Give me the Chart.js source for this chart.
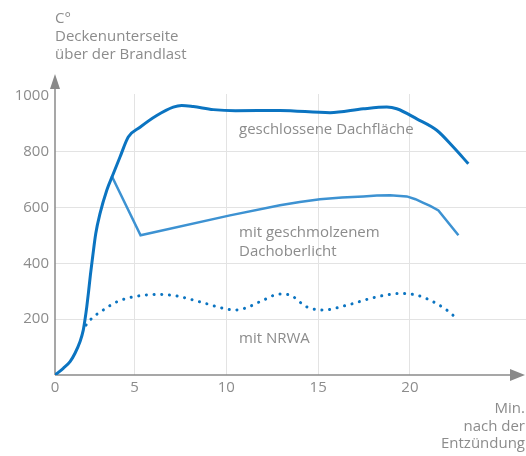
<!DOCTYPE html>
<html>
<head>
<meta charset="utf-8">
<script src="https://cdn.jsdelivr.net/npm/chart.js@4"></script>
<style>
  body { margin: 0; background: #fff; }
  #wrap { width: 526px; height: 456px; }
</style>
</head>
<body>
<div id="wrap"><canvas id="brandChart" width="526" height="456"></canvas></div>
<script>
// minutes after ignition (x axis starts slightly right of zero in the original drawing)
const xTicks = [0.67, 5, 10, 15, 20];
const yTicks = [200, 400, 600, 800, 1000];

// geschlossene Dachfläche
const closedX = [0.67, 1.12, 1.49, 1.76, 2.03, 2.21, 2.3, 2.4, 2.5, 2.6, 2.72, 2.89, 3.12, 3.49, 3.85, 4.21, 4.66, 5.3, 6.21, 7.11, 7.57, 8.2, 9.29, 10.5, 12.92, 15.65, 17.46, 18.74, 19.28, 20.37, 21.46, 22.36, 23.18];
const closedY = [0, 24, 48, 78, 119, 161, 197, 244, 300, 360, 423, 507, 578, 662, 722, 781, 853, 888, 930, 960, 966, 962, 951, 947, 948, 940, 954, 960, 954, 918, 877, 817, 757];

// mit geschmolzenem Dachoberlicht
const meltedX = [3.76, 5.33, 10.2, 12.92, 14.0, 15.1, 16.3, 17.46, 18.2, 18.92, 19.83, 20.3, 20.73, 21.1, 21.55, 22.64];
const meltedY = [713, 501, 572, 608, 620, 630, 636, 640, 643, 644, 640, 630, 617, 606, 590, 501];

// mit NRWA
const nrwaX = [2.36, 2.67, 3.3, 4.03, 4.93, 6.3, 7.3, 8.57, 9.84, 10.5, 11.1, 12.0, 12.9, 13.4, 14.38, 15.28, 16.56, 18.19, 19.46, 20.37, 21.1, 22.0, 22.64];
const nrwaY = [179, 203, 233, 262, 280, 289, 283, 262, 239, 233, 241, 268, 290, 288, 244, 233, 250, 280, 292, 286, 268, 233, 197];

const textGray = '#8c8c8c';
const axisGray = '#8a8a8a';
const gridGray = '#e3e3e3';
const blue = '#0b74c1';
const fontFamily = '"Open Sans", "Noto Sans", sans-serif';

function toPoints(xs, ys) {
  return xs.map(function(x, i) { return { x: x, y: ys[i] }; });
}

// axes with arrow heads + free text labels
const decorPlugin = {
  id: 'decor',
  beforeDatasetsDraw(chart) {
    const ctx = chart.ctx;
    const a = chart.chartArea;
    const x0 = a.left, y0 = a.bottom;
    ctx.save();
    ctx.strokeStyle = axisGray;
    ctx.fillStyle = axisGray;
    ctx.lineWidth = 1.5;
    // y axis
    ctx.beginPath();
    ctx.moveTo(x0, y0);
    ctx.lineTo(x0, 88);
    ctx.stroke();
    ctx.beginPath();
    ctx.moveTo(x0, 74);
    ctx.lineTo(x0 - 5, 89);
    ctx.lineTo(x0 + 5, 89);
    ctx.closePath();
    ctx.fill();
    // x axis
    ctx.beginPath();
    ctx.moveTo(x0, y0);
    ctx.lineTo(511, y0);
    ctx.stroke();
    ctx.beginPath();
    ctx.moveTo(525, y0);
    ctx.lineTo(510, y0 - 6);
    ctx.lineTo(510, y0 + 6);
    ctx.closePath();
    ctx.fill();
    ctx.restore();
  },
  afterDraw(chart) {
    const ctx = chart.ctx;
    ctx.save();
    ctx.fillStyle = textGray;
    ctx.font = '15px ' + fontFamily;
    ctx.textBaseline = 'alphabetic';
    ctx.textAlign = 'left';
    ctx.fillText('C°', 55, 23);
    ctx.fillText('Deckenunterseite', 55, 41);
    ctx.fillText('über der Brandlast', 55, 59);
    ctx.fillText('geschlossene Dachfläche', 239, 134);
    ctx.fillText('mit geschmolzenem', 239, 237);
    ctx.fillText('Dachoberlicht', 239, 256);
    ctx.fillText('mit NRWA', 239, 343);
    ctx.textAlign = 'right';
    ctx.fillText('Min.', 525, 413);
    ctx.fillText('nach der', 525, 431);
    ctx.fillText('Entzündung', 525, 448);
    ctx.restore();
  }
};

const chart = new Chart(document.getElementById('brandChart'), {
  type: 'line',
  data: {
    datasets: [
      {
        label: 'geschlossene Dachfläche',
        data: toPoints(closedX, closedY),
        borderColor: blue,
        borderWidth: 3,
        pointRadius: 0,
        cubicInterpolationMode: 'monotone'
      },
      {
        label: 'mit geschmolzenem Dachoberlicht',
        data: toPoints(meltedX, meltedY),
        borderColor: '#3d92d2',
        borderWidth: 2.5,
        pointRadius: 0,
        tension: 0
      },
      {
        label: 'mit NRWA',
        data: toPoints(nrwaX, nrwaY),
        borderColor: blue,
        borderWidth: 3,
        borderDash: [0.1, 7.6],
        borderCapStyle: 'round',
        pointRadius: 0,
        cubicInterpolationMode: 'monotone'
      }
    ]
  },
  options: {
    responsive: false,
    animation: false,
    layout: { padding: { top: 94, right: 0, bottom: 0, left: 0 } },
    plugins: {
      legend: { display: false },
      tooltip: { enabled: false }
    },
    scales: {
      x: {
        type: 'linear',
        min: 0.67,
        max: 26.32,
        afterBuildTicks: function(scale) {
          scale.ticks = xTicks.map(function(v) { return { value: v }; });
        },
        afterFit: function(scale) { scale.height = 81; },
        border: { display: false },
        grid: {
          drawTicks: false,
          color: function(c) { return c.tick && c.tick.value < 1 ? 'rgba(0,0,0,0)' : gridGray; },
          lineWidth: 1
        },
        ticks: {
          padding: 4,
          color: textGray,
          font: { family: fontFamily, size: 15 },
          maxRotation: 0,
          callback: function(v) { return v < 1 ? '0' : String(v); }
        }
      },
      y: {
        min: 0,
        max: 1007,
        afterBuildTicks: function(scale) {
          scale.ticks = yTicks.map(function(v) { return { value: v }; });
        },
        afterFit: function(scale) { scale.width = 55; },
        border: { display: false },
        grid: {
          drawTicks: false,
          color: function(c) { return c.tick && c.tick.value >= 1000 ? 'rgba(0,0,0,0)' : gridGray; },
          lineWidth: 1
        },
        ticks: {
          padding: 6,
          color: textGray,
          font: { family: fontFamily, size: 15 },
          callback: function(v) { return String(v); }
        }
      }
    }
  },
  plugins: [decorPlugin]
});
</script>
</body>
</html>
